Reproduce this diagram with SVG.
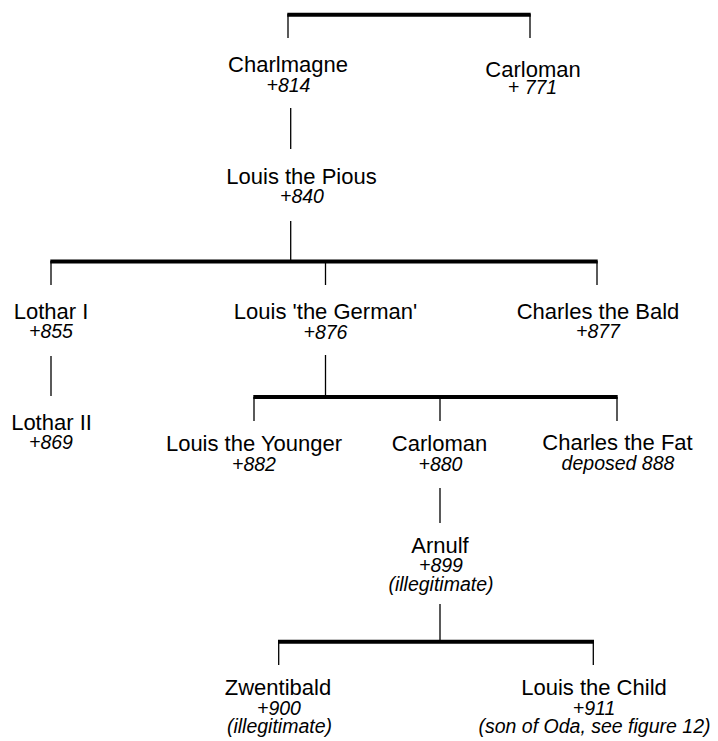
<svg xmlns="http://www.w3.org/2000/svg" width="718" height="741" viewBox="0 0 718 741">
<style>
.bg{fill:#ffffff}
.bar{stroke:#000;stroke-width:4;fill:none;stroke-linecap:butt}
.ln{stroke:#000;stroke-width:1.3;fill:none}
text{font-family:"Liberation Sans",Arial,Helvetica,sans-serif;fill:#000;text-anchor:middle;font-size:22px}
.d{font-size:19.5px;font-style:italic}
</style>
<rect class="bg" x="0" y="0" width="718" height="741"/>
<g id="connectors">
<line class="bar" x1="287.3" y1="14.7" x2="530.7" y2="14.7"/>
<line class="ln" x1="288" y1="14" x2="288" y2="38"/>
<line class="ln" x1="530" y1="14" x2="530" y2="38"/>
<line class="ln" x1="290.7" y1="108" x2="290.7" y2="149"/>
<line class="ln" x1="290.7" y1="221" x2="290.7" y2="261"/>
<line class="bar" x1="50.3" y1="261.5" x2="597.7" y2="261.5"/>
<line class="ln" x1="51" y1="261" x2="51" y2="285"/>
<line class="ln" x1="325.5" y1="261" x2="325.5" y2="285"/>
<line class="ln" x1="597" y1="261" x2="597" y2="285"/>
<line class="ln" x1="51" y1="356" x2="51" y2="396"/>
<line class="ln" x1="325.5" y1="355" x2="325.5" y2="397"/>
<line class="bar" x1="253.3" y1="397" x2="617.7" y2="397"/>
<line class="ln" x1="254" y1="397" x2="254" y2="421"/>
<line class="ln" x1="440" y1="397" x2="440" y2="421"/>
<line class="ln" x1="617" y1="397" x2="617" y2="421"/>
<line class="ln" x1="440" y1="488" x2="440" y2="523"/>
<line class="ln" x1="440" y1="604" x2="440" y2="641"/>
<line class="bar" x1="278" y1="641.7" x2="594" y2="641.7"/>
<line class="ln" x1="278.7" y1="641" x2="278.7" y2="665"/>
<line class="ln" x1="593.3" y1="641" x2="593.3" y2="665"/>
</g>
<g id="charlemagne"><text><tspan x="288" y="72">Charlmagne</tspan><tspan class="d" x="288.5" y="92">+814</tspan></text></g>
<g id="carloman-771"><text><tspan x="533" y="77">Carloman</tspan><tspan class="d" x="532.5" y="94">+ 771</tspan></text></g>
<g id="louis-pious"><text><tspan x="301.5" y="184">Louis the Pious</tspan><tspan class="d" x="302" y="203">+840</tspan></text></g>
<g id="lothar-i"><text><tspan x="51" y="319">Lothar I</tspan><tspan class="d" x="51" y="338">+855</tspan></text></g>
<g id="louis-german"><text><tspan x="325.5" y="319">Louis 'the German'</tspan><tspan class="d" x="325.5" y="339">+876</tspan></text></g>
<g id="charles-bald"><text><tspan x="598" y="319">Charles the Bald</tspan><tspan class="d" x="598" y="338">+877</tspan></text></g>
<g id="lothar-ii"><text><tspan x="51.5" y="430">Lothar II</tspan><tspan class="d" x="51" y="449">+869</tspan></text></g>
<g id="louis-younger"><text><tspan x="254" y="451">Louis the Younger</tspan><tspan class="d" x="254" y="471">+882</tspan></text></g>
<g id="carloman-880"><text><tspan x="439.5" y="451">Carloman</tspan><tspan class="d" x="440.5" y="471">+880</tspan></text></g>
<g id="charles-fat"><text><tspan x="617.5" y="450">Charles the Fat</tspan><tspan class="d" x="618" y="470">deposed 888</tspan></text></g>
<g id="arnulf"><text><tspan x="440" y="553">Arnulf</tspan><tspan class="d" x="441" y="572">+899</tspan><tspan class="d" x="441" y="591">(illegitimate)</tspan></text></g>
<g id="zwentibald"><text><tspan x="278" y="695">Zwentibald</tspan><tspan class="d" x="279" y="715">+900</tspan><tspan class="d" x="279.5" y="733">(illegitimate)</tspan></text></g>
<g id="louis-child"><text><tspan x="594" y="695">Louis the Child</tspan><tspan class="d" x="594" y="715">+911</tspan><tspan class="d" x="594.5" y="733">(son of Oda, see figure 12)</tspan></text></g>
</svg>
